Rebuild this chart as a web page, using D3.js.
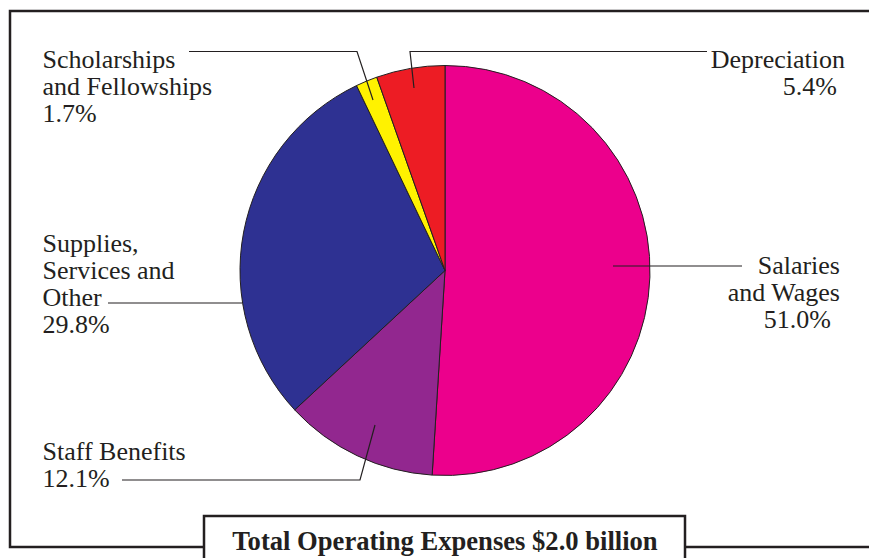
<!DOCTYPE html>
<html>
<head>
<meta charset="utf-8">
<script src="https://cdn.jsdelivr.net/npm/d3@7"></script>
<style>
  html, body { margin: 0; padding: 0; background: #fff; }
  svg { display: block; }
  text { font-family: "Liberation Serif", "Times New Roman", serif; fill: #231f20; }
</style>
</head>
<body>
<svg id="chart" width="869" height="558"></svg>
<script>
// ---- data ----
const categories = ["Salaries and Wages", "Staff Benefits", "Supplies, Services and Other", "Scholarships and Fellowships", "Depreciation"];
const values = [51.0, 12.1, 29.8, 1.7, 5.4];
const colors = ["#EC008C", "#92278F", "#2E3192", "#FFF200", "#ED1C24"];
const labelLines = [
  ["Salaries", "and Wages", "51.0%"],
  ["Staff Benefits", "12.1%"],
  ["Supplies,", "Services and", "Other", "29.8%"],
  ["Scholarships", "and Fellowships", "1.7%"],
  ["Depreciation", "5.4%"]
];
const title = "Total Operating Expenses $2.0 billion";

// ---- layout ----
const svg = d3.select("#chart");
const ink = "#231f20";
const cx = 445, cy = 270.5, R = 205;

// outer frame
svg.append("rect")
  .attr("x", 10).attr("y", 11).attr("width", 900).attr("height", 536)
  .attr("fill", "none").attr("stroke", ink).attr("stroke-width", 2.5);

// pie
const pie = d3.pie().sort(null).value(d => d).startAngle(0).endAngle(2 * Math.PI);
const arcs = pie(values);
const arc = d3.arc().innerRadius(0).outerRadius(R);

const g = svg.append("g").attr("transform", `translate(${cx},${cy})`);
g.selectAll("path")
  .data(arcs)
  .join("path")
  .attr("d", arc)
  .attr("fill", (d, i) => colors[i])
  .attr("stroke", ink)
  .attr("stroke-width", 1)
  .attr("stroke-linejoin", "round");

// label configurations (layout only)
const labelCfg = [
  { x: 840, y: 274, anchor: "end", dx: [0, 0, -9], leader: [[613, 266], [742, 266]] },
  { x: 42.5, y: 460, anchor: "start", dx: [0, 0], leader: [[122, 480], [360, 480], [375, 425]] },
  { x: 42.5, y: 252, anchor: "start", dx: [0, 0, 0, 0], leader: [[108, 303], [242.6, 303]] },
  { x: 42.5, y: 67.5, anchor: "start", dx: [0, 0, 0], leader: [[189, 51.5], [357, 51.5], [373, 100]] },
  { x: 845, y: 68.3, anchor: "end", dx: [0, -8], leader: [[707, 51.5], [410, 51.5], [414, 88]] }
];
const lineH = 27;

const line = d3.line();
labelCfg.forEach((c, i) => {
  svg.append("path")
    .attr("d", line(c.leader))
    .attr("fill", "none")
    .attr("stroke", ink)
    .attr("stroke-width", 1.2);
  const t = svg.append("text")
    .attr("text-anchor", c.anchor)
    .attr("font-size", 26);
  labelLines[i].forEach((s, j) => {
    t.append("tspan")
      .attr("x", c.x + c.dx[j])
      .attr("y", c.y + j * lineH)
      .text(s);
  });
});

// title box
svg.append("rect")
  .attr("x", 204).attr("y", 516).attr("width", 481).attr("height", 60)
  .attr("fill", "#fff").attr("stroke", ink).attr("stroke-width", 2.5);
svg.append("text")
  .attr("x", 445).attr("y", 549.5)
  .attr("text-anchor", "middle")
  .attr("font-size", 26.6)
  .attr("font-weight", "bold")
  .text(title);
</script>
</body>
</html>
